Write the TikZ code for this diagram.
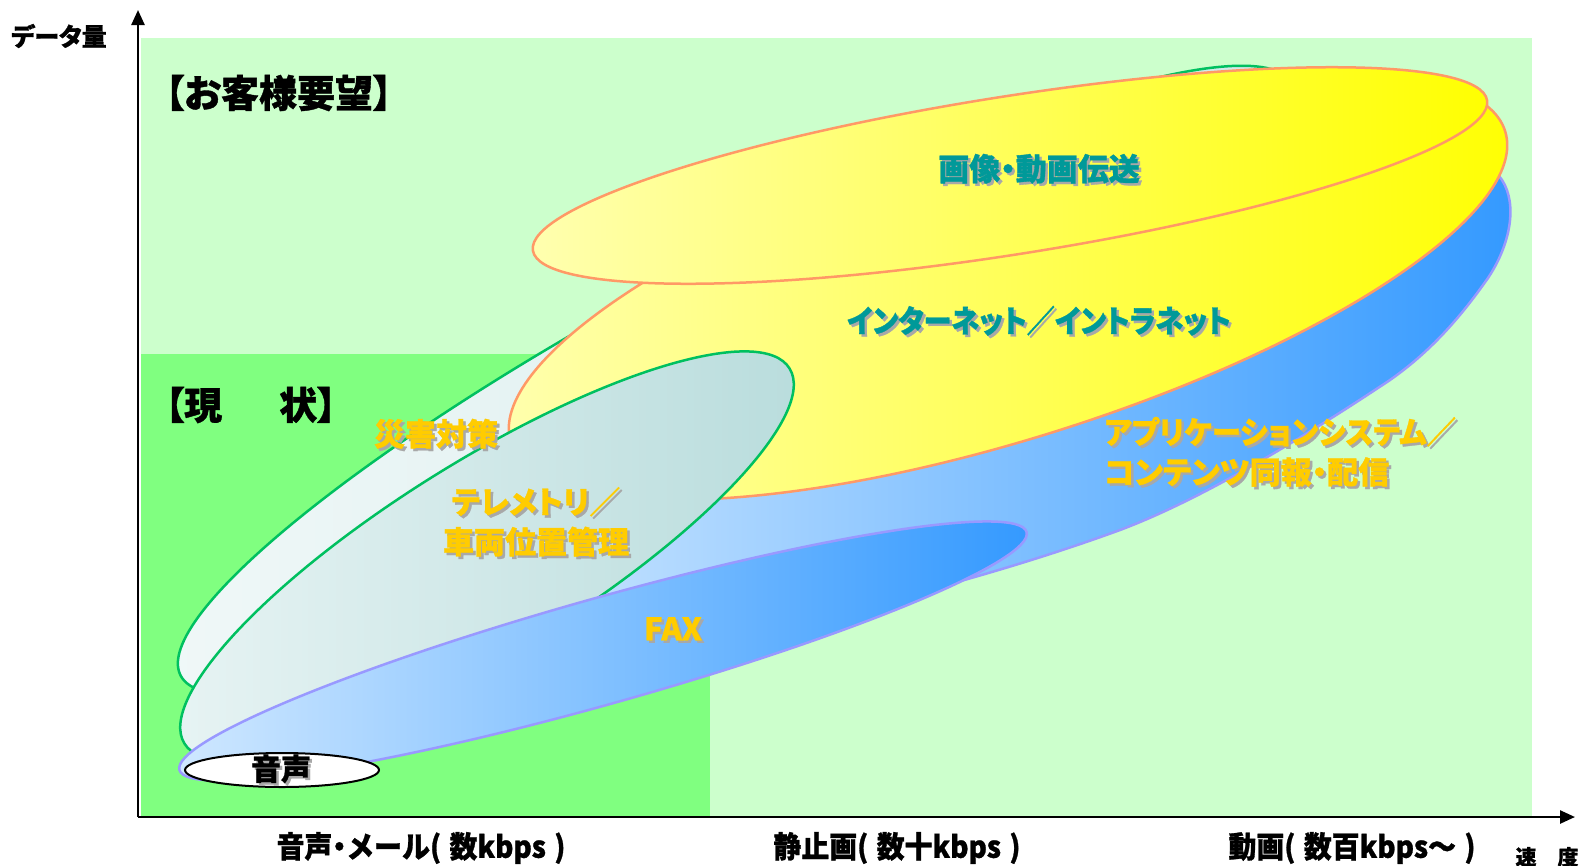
\documentclass[tikz,border=0pt]{standalone}
\usepackage{fontspec}
\usepackage{graphicx}
\newfontfamily\jp{Noto Sans CJK JP}[RawFeature=+palt,BoldFeatures={FakeBold=1}]
\newfontfamily\jpf{Noto Sans CJK JP}[BoldFeatures={FakeBold=1}]
\usetikzlibrary{arrows.meta}
\definecolor{bglight}{HTML}{CCFFCC}
\definecolor{bgdark}{HTML}{80FF80}
\definecolor{greenline}{HTML}{00C060}
\definecolor{orangeline}{HTML}{FF9966}
\definecolor{purpleline}{HTML}{9999FF}
\definecolor{tealtxt}{HTML}{009999}
\definecolor{orangetxt}{HTML}{FFCC00}
\definecolor{shadowc}{HTML}{A8A8A8}
\definecolor{cyanL}{HTML}{F0F8F8}
\definecolor{cyanR}{HTML}{D0E8E8}
\definecolor{cyan2L}{HTML}{E8F4F4}
\definecolor{cyan2R}{HTML}{B8DCDC}
\definecolor{blueL}{HTML}{D0E8FF}
\definecolor{blueR}{HTML}{3399FF}
\definecolor{yelL}{HTML}{FFFFB0}
\definecolor{yelR}{HTML}{FFFF00}
\newcommand\shtxt[2]{\leavevmode\rlap{\kern2.5pt\raisebox{-2.5pt}{\textcolor{shadowc}{#2}}}\textcolor{#1}{#2}}
\newcommand\lp{(\hspace{0.3em}}
\newcommand\rp{\hspace{0.3em})}
\tikzset{
  axisline/.style={line width=2.5pt,-{Triangle[length=15pt,width=13pt]}},
  greenshape/.style={draw=greenline,line width=2.5pt},
  yellowshape/.style={draw=orangeline,line width=2.5pt,left color=yelL,right color=yelR},
  blueshape/.style={draw=purpleline,line width=2.5pt,left color=blueL,right color=blueR},
  lbl/.style={inner sep=0pt,font=\jp\bfseries\fontsize{31}{40}\selectfont},
  axlbl/.style={inner sep=0pt,font=\jpf\bfseries\fontsize{30}{32}\selectfont},
  head/.style={inner sep=0pt,font=\jp\bfseries\fontsize{38}{42}\selectfont}
}
\begin{document}
\begin{tikzpicture}[x=1pt,y=-1pt]
\useasboundingbox (0,0) rectangle (1586,865);
% backgrounds
\fill[bglight] (141,38) rectangle (1532,817);
\fill[bgdark] (141,354) rectangle (710,817);
% disaster-countermeasure ellipse
\begin{scope}[rotate around={28:(737,380)}]
\path[greenshape,left color=cyanL,right color=cyanR] (737,380) ellipse [x radius=630, y radius=120];
\end{scope}
% application / contents shape
\path[blueshape] (1300,150)
  .. controls (1420,148) and (1485,155) .. (1502,180)
  .. controls (1518,205) and (1510,245) .. (1488,278)
  .. controls (1460,318) and (1430,352) .. (1390,380)
  .. controls (1300,440) and (1200,500) .. (1120,530)
  .. controls (1060,552) and (1000,570) .. (957,582)
  .. controls (850,615) and (560,670) .. (470,665)
  .. controls (470,560) and (520,430) .. (556,352)
  .. controls (650,240) and (1000,152) .. (1300,150) -- cycle;
% internet / intranet
\begin{scope}[rotate around={17.4:(1008,287)}]
\path[yellowshape] (1008,287) ellipse [x radius=521, y radius=152];
\end{scope}
% image / video
\begin{scope}[rotate around={8.94:(1010,175.5)}]
\path[yellowshape] (1010,175.5) ellipse [x radius=483, y radius=79];
\end{scope}
% telemetry
\begin{scope}[rotate around={31.8:(487,556)}]
\path[greenshape,left color=cyan2L,right color=cyan2R] (487,556) ellipse [x radius=356, y radius=96];
\end{scope}
% FAX
\begin{scope}[rotate around={15.7:(603,651)}]
\path[blueshape] (603,651) ellipse [x radius=440, y radius=53];
\end{scope}
% voice
\draw[line width=2pt,fill=white] (282,770) ellipse [x radius=97, y radius=17];
% axes
\coordinate (O) at (138,817);
\coordinate (ytip) at (138,10);
\coordinate (xtip) at (1575,817);
\draw[axisline] (O) -- (ytip);
\draw[axisline] (O) -- (xtip);
% texts
\node[inner sep=0pt,font=\jp\bfseries\fontsize{25}{26}\selectfont] (ylab) at (59,36) {データ量};
\node[head,anchor=west] (req) at (165,93) {【お客様要望】};
\node[head,anchor=west] (cur) at (165,405) {【現\hspace{1.5em}状】};
\node[lbl] (saigai) at (436,435) {\shtxt{orangetxt}{災害対策}};
\node[lbl,align=center] (tele) at (536,523) {\shtxt{orangetxt}{テレメトリ／}\\\shtxt{orangetxt}{車両位置管理}};
\node[lbl,align=left,anchor=west] (app) at (1104,453) {\shtxt{orangetxt}{\scalebox{0.95}[1]{アプリケーションシステム／}}\\\shtxt{orangetxt}{コンテンツ同報・配信}};
\node[lbl] (fax) at (673,630) {\shtxt{orangetxt}{FAX}};
\node[lbl] (gazo) at (1039,170) {\shtxt{tealtxt}{画像・動画伝送}};
\node[lbl] (inet) at (1039,322) {\shtxt{tealtxt}{\scalebox{0.91}[1]{インターネット／イントラネット}}};
\node[inner sep=0pt,font=\jp\bfseries\fontsize{30}{32}\selectfont] (onsei) at (281,770) {\shtxt{black}{音声}};
\node[axlbl] (x1) at (421,848) {\scalebox{0.93}[1]{音声{\jp・}メール\lp 数kbps\rp}};
\node[axlbl] (x2) at (897,848) {\scalebox{0.93}[1]{静止画\lp 数十kbps\rp}};
\node[axlbl] (x3) at (1352,848) {\scalebox{0.93}[1]{動画\lp 数百kbps～\rp}};
\node[inner sep=0pt,font=\jp\bfseries\fontsize{21}{22}\selectfont] (speed) at (1547,857) {速\hspace{1em}度};
\end{tikzpicture}
\end{document}
